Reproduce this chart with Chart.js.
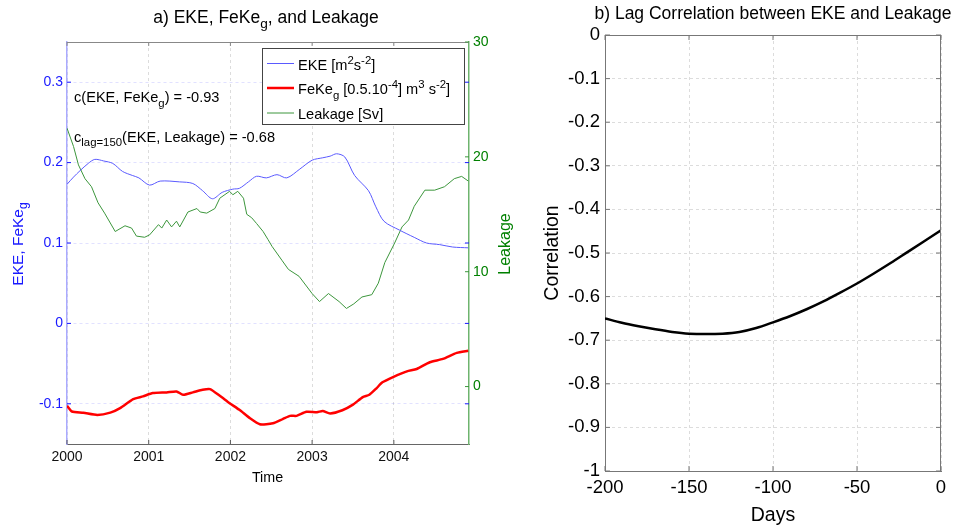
<!DOCTYPE html>
<html>
<head>
<meta charset="utf-8">
<script src="https://cdn.jsdelivr.net/npm/chart.js@4.4.0/dist/chart.umd.min.js"></script>
<style>
    body { margin: 0; background: #fff; }
    #lienzo { position: relative; width: 953px; height: 529px; }
    #lienzo canvas { position: absolute; left: 0; top: 0; }
</style>
</head>
<body>
<div id="lienzo">
    <canvas id="graficoA" width="953" height="529"></canvas>
    <canvas id="graficoB" width="953" height="529"></canvas>
</div>
<script>
// Datos panel a) (tiempo en años decimales)
const anosEKE = [2000.00, 2000.08, 2000.16, 2000.26, 2000.34, 2000.45, 2000.56, 2000.68, 2000.80, 2000.88, 2001.01, 2001.14, 2001.38, 2001.54, 2001.66, 2001.78, 2001.90, 2002.03, 2002.11, 2002.22, 2002.32, 2002.44, 2002.57, 2002.69, 2002.85, 2003.00, 2003.13, 2003.22, 2003.30, 2003.40, 2003.52, 2003.69, 2003.78, 2003.88, 2004.07, 2004.25, 2004.40, 2004.56, 2004.72, 2004.91];
const valoresEKE = [0.173, 0.182, 0.190, 0.199, 0.204, 0.202, 0.199, 0.189, 0.184, 0.181, 0.172, 0.177, 0.176, 0.174, 0.165, 0.155, 0.163, 0.167, 0.168, 0.176, 0.183, 0.181, 0.185, 0.181, 0.192, 0.203, 0.206, 0.208, 0.211, 0.207, 0.184, 0.165, 0.145, 0.127, 0.116, 0.107, 0.100, 0.098, 0.095, 0.094];

const anosFeKe = [2000.00, 2000.06, 2000.20, 2000.37, 2000.53, 2000.65, 2000.81, 2000.93, 2001.05, 2001.22, 2001.34, 2001.42, 2001.54, 2001.66, 2001.75, 2001.87, 2001.99, 2002.11, 2002.24, 2002.36, 2002.52, 2002.64, 2002.73, 2002.81, 2002.93, 2003.06, 2003.13, 2003.22, 2003.37, 2003.50, 2003.62, 2003.70, 2003.79, 2003.86, 2003.99, 2004.16, 2004.28, 2004.44, 2004.60, 2004.77, 2004.91];
const valoresFeKe = [-0.1025, -0.1096, -0.111, -0.1138, -0.111, -0.1054, -0.0942, -0.0908, -0.0867, -0.0858, -0.0846, -0.0888, -0.0858, -0.0825, -0.0817, -0.090, -0.0992, -0.1075, -0.118, -0.1254, -0.1242, -0.119, -0.115, -0.115, -0.110, -0.1104, -0.109, -0.112, -0.108, -0.101, -0.0917, -0.0888, -0.0804, -0.0733, -0.0667, -0.0596, -0.0567, -0.0483, -0.0442, -0.0367, -0.034];

const anosLeakage = [2000.00, 2000.08, 2000.14, 2000.22, 2000.30, 2000.38, 2000.46, 2000.59, 2000.71, 2000.79, 2000.85, 2000.95, 2001.01, 2001.12, 2001.16, 2001.22, 2001.28, 2001.34, 2001.38, 2001.48, 2001.59, 2001.63, 2001.71, 2001.81, 2001.87, 2001.99, 2002.03, 2002.09, 2002.16, 2002.20, 2002.26, 2002.32, 2002.40, 2002.46, 2002.51, 2002.63, 2002.71, 2002.84, 2003.00, 2003.09, 2003.20, 2003.33, 2003.42, 2003.51, 2003.61, 2003.73, 2003.81, 2003.89, 2004.01, 2004.10, 2004.18, 2004.25, 2004.38, 2004.50, 2004.62, 2004.74, 2004.83, 2004.91];
const valoresLeakage = [22.5, 20.9, 19.3, 18.1, 17.4, 16.0, 15.1, 13.5, 14.0, 13.8, 13.1, 13.0, 13.2, 14.1, 13.8, 14.5, 13.9, 14.4, 13.9, 15.2, 15.5, 15.2, 15.1, 15.5, 16.4, 17.0, 16.7, 17.0, 16.4, 15.0, 14.7, 14.2, 13.5, 12.8, 12.2, 11.0, 10.2, 9.6, 8.1, 7.4, 8.1, 7.4, 6.8, 7.2, 7.8, 8.0, 9.0, 10.8, 12.5, 13.9, 14.5, 15.7, 17.1, 17.1, 17.4, 18.1, 18.3, 17.9];

// Datos panel b)
const diasLag = [-200, -190, -180, -170, -160, -150, -140, -130, -120, -110, -100, -90, -80, -70, -60, -50, -40, -30, -20, -10, 0];
const correlacionLag = [-0.650, -0.660, -0.668, -0.675, -0.681, -0.685, -0.686, -0.685, -0.681, -0.672, -0.659, -0.645, -0.629, -0.611, -0.591, -0.570, -0.547, -0.523, -0.498, -0.473, -0.448];

// Ticks
const ticksTiempo = [2000, 2001, 2002, 2003, 2004];
const ticksEKE = [-0.1, 0, 0.1, 0.2, 0.3];
const ticksLeakage = [0, 10, 20, 30];
const ticksDias = [-200, -150, -100, -50, 0];
const ticksCorrelacion = [0, -0.1, -0.2, -0.3, -0.4, -0.5, -0.6, -0.7, -0.8, -0.9, -1];

const FUENTE = "'Liberation Sans', Arial, sans-serif";
const AZUL = 'rgb(25,25,255)';
const VERDE = 'rgb(0,128,0)';

const puntos = (xs, ys) => xs.map((x, i) => ({ x: x, y: ys[i] }));
const fijarTicks = lista => (escala => { escala.ticks = lista.map(v => ({ value: v })); });

// Texto con subindices / superindices
function textoRico(ctx, partes, x, y, size, color, align) {
    const tam = m => (m ? size * 0.78 : size);
    let ancho = 0;
    partes.forEach(([t, m]) => {
        ctx.font = tam(m) + 'px ' + FUENTE;
        ancho += ctx.measureText(t).width;
    });
    let cx = align === 'center' ? x - ancho / 2 : x;
    ctx.fillStyle = color;
    ctx.textAlign = 'left';
    ctx.textBaseline = 'alphabetic';
    partes.forEach(([t, m]) => {
        ctx.font = tam(m) + 'px ' + FUENTE;
        const dy = m === 'sub' ? size * 0.32 : (m === 'sup' ? -size * 0.42 : 0);
        ctx.fillText(t, cx, y + dy);
        cx += ctx.measureText(t).width;
    });
}

function textoVertical(ctx, partes, x, y, size, color) {
    ctx.save();
    ctx.translate(x, y);
    ctx.rotate(-Math.PI / 2);
    textoRico(ctx, partes, 0, 0, size, color, 'center');
    ctx.restore();
}

function linea(ctx, x1, y1, x2, y2, color, ancho) {
    ctx.save();
    ctx.strokeStyle = color;
    ctx.lineWidth = ancho;
    ctx.beginPath();
    ctx.moveTo(x1, y1);
    ctx.lineTo(x2, y2);
    ctx.stroke();
    ctx.restore();
}

const extrasA = {
    id: 'extrasA',
    afterDraw(chart) {
        const ctx = chart.ctx;
        const a = chart.chartArea;
        const sx = chart.scales.x, sy = chart.scales.yEKE, sl = chart.scales.yLeak;

        // borde superior y ticks hacia dentro
        linea(ctx, a.left, a.top + 0.5, a.right, a.top + 0.5, '#888', 1);
        ticksTiempo.forEach(v => {
            const px = sx.getPixelForValue(v);
            linea(ctx, px, a.bottom, px, a.bottom - 4, '#555', 1);
            linea(ctx, px, a.top, px, a.top + 4, '#888', 1);
        });
        ticksEKE.forEach(v => {
            const py = sy.getPixelForValue(v);
            linea(ctx, a.left, py, a.left + 4, py, AZUL, 1);
            linea(ctx, a.right, py, a.right - 4, py, AZUL, 1);
        });
        ticksLeakage.forEach(v => {
            const py = sl.getPixelForValue(v);
            linea(ctx, a.right, py, a.right - 4, py, 'rgb(60,150,60)', 1);
        });

        // Anotaciones
        textoRico(ctx, [['c(EKE, FeKe', ''], ['g', 'sub'], [') = -0.93', '']], 74, 102, 14.6, '#000', 'left');
        textoRico(ctx, [['c', ''], ['lag=150', 'sub'], ['(EKE, Leakage) = -0.68', '']], 74, 141.7, 14.6, '#000', 'left');

        // Leyenda
        ctx.save();
        ctx.fillStyle = '#fff';
        ctx.fillRect(262, 48, 202, 76);
        ctx.strokeStyle = '#444';
        ctx.lineWidth = 1;
        ctx.strokeRect(262.5, 48.5, 202, 76);
        ctx.restore();
        linea(ctx, 267, 63.5, 294, 63.5, 'rgb(90,90,255)', 1);
        linea(ctx, 267, 88, 294, 88, 'rgb(255,0,0)', 2.5);
        linea(ctx, 267, 113, 294, 113, 'rgb(60,150,60)', 1);
        textoRico(ctx, [['EKE [m', ''], ['2', 'sup'], ['s', ''], ['-2', 'sup'], [']', '']], 298, 70, 14.6, '#000', 'left');
        textoRico(ctx, [['FeKe', ''], ['g', 'sub'], [' [0.5.10', ''], ['-4', 'sup'], ['] m', ''], ['3', 'sup'], [' s', ''], ['-2', 'sup'], [']', '']], 298, 94.3, 14.6, '#000', 'left');
        textoRico(ctx, [['Leakage [Sv]', '']], 298, 119, 14.6, '#000', 'left');

        // Titulos
        textoRico(ctx, [['a) EKE, FeKe', ''], ['g', 'sub'], [', and Leakage', '']], 266, 22.7, 17.5, '#000', 'center');
        textoRico(ctx, [['Time', '']], 267.5, 482.3, 14.3, '#000', 'center');
        textoVertical(ctx, [['EKE, FeKe', ''], ['g', 'sub']], 22.5, 244, 15.5, AZUL);
        textoVertical(ctx, [['Leakage', '']], 509.5, 244, 16, VERDE);
    }
};

const extrasB = {
    id: 'extrasB',
    afterDraw(chart) {
        const ctx = chart.ctx;
        const a = chart.chartArea;
        const sx = chart.scales.x, sy = chart.scales.y;
        linea(ctx, a.left, a.top + 0.5, a.right, a.top + 0.5, '#777', 1);
        linea(ctx, a.right - 0.5, a.top, a.right - 0.5, a.bottom, '#777', 1);
        ticksDias.forEach(v => {
            const px = sx.getPixelForValue(v);
            linea(ctx, px, a.bottom, px, a.bottom - 5, '#777', 1);
            linea(ctx, px, a.top, px, a.top + 5, '#777', 1);
        });
        ticksCorrelacion.forEach(v => {
            const py = sy.getPixelForValue(v);
            linea(ctx, a.left, py, a.left + 5, py, '#777', 1);
            linea(ctx, a.right, py, a.right - 5, py, '#777', 1);
        });
        textoRico(ctx, [['b) Lag Correlation between EKE and Leakage', '']], 773, 19.3, 17.5, '#000', 'center');
        textoRico(ctx, [['Days', '']], 773, 520.7, 19.5, '#000', 'center');
        textoVertical(ctx, [['Correlation', '']], 558, 253, 19.5, '#000');
    }
};

// Panel a)
new Chart(document.getElementById('graficoA'), {
    type: 'line',
    data: {
        datasets: [
            {
                label: 'EKE',
                data: puntos(anosEKE, valoresEKE),
                yAxisID: 'yEKE',
                borderColor: 'rgb(90,90,255)',
                borderWidth: 1,
                pointRadius: 0,
                tension: 0.3
            },
            {
                label: 'FeKe',
                data: puntos(anosFeKe, valoresFeKe),
                yAxisID: 'yEKE',
                borderColor: 'rgb(255,0,0)',
                borderWidth: 2.5,
                pointRadius: 0,
                tension: 0.2
            },
            {
                label: 'Leakage',
                data: puntos(anosLeakage, valoresLeakage),
                yAxisID: 'yLeak',
                borderColor: 'rgb(60,150,60)',
                borderWidth: 1,
                pointRadius: 0,
                tension: 0
            }
        ]
    },
    options: {
        responsive: false,
        animation: false,
        layout: { padding: { top: 42, left: 0, right: 0, bottom: 0 } },
        plugins: { legend: { display: false }, tooltip: { enabled: false } },
        scales: {
            x: {
                type: 'linear',
                min: 2000,
                max: 2004.92,
                afterFit: s => { s.height = 85; },
                afterBuildTicks: fijarTicks(ticksTiempo),
                ticks: { color: '#111', font: { family: FUENTE, size: 14 }, padding: 5, callback: v => String(v) },
                grid: { color: '#dcdcdc', drawTicks: false },
                border: { color: '#666', width: 1, dash: [3, 3] }
            },
            yEKE: {
                position: 'left',
                min: -0.15,
                max: 0.35,
                afterFit: s => { s.width = 67; },
                afterBuildTicks: fijarTicks(ticksEKE),
                ticks: { color: AZUL, font: { family: FUENTE, size: 14 }, padding: 4, callback: v => String(v) },
                grid: { color: 'rgba(120,120,255,0.22)', drawTicks: false },
                border: { color: 'rgb(170,170,255)', width: 1.5, dash: [3, 3] }
            },
            yLeak: {
                position: 'right',
                min: -5,
                max: 30,
                afterFit: s => { s.width = 953 - 469; },
                afterBuildTicks: fijarTicks(ticksLeakage),
                ticks: { color: VERDE, font: { family: FUENTE, size: 14 }, padding: 4, callback: v => String(v) },
                grid: { drawOnChartArea: false, drawTicks: false },
                border: { color: 'rgb(110,180,110)', width: 1.5 }
            }
        }
    },
    plugins: [extrasA]
});

// Panel b)
new Chart(document.getElementById('graficoB'), {
    type: 'line',
    data: {
        datasets: [{
            label: 'Correlation',
            data: puntos(diasLag, correlacionLag),
            borderColor: '#000',
            borderWidth: 2.5,
            pointRadius: 0,
            cubicInterpolationMode: 'monotone'
        }]
    },
    options: {
        responsive: false,
        animation: false,
        layout: { padding: { top: 35, left: 0, right: 12, bottom: 0 } },
        plugins: { legend: { display: false }, tooltip: { enabled: false } },
        scales: {
            x: {
                type: 'linear',
                min: -200,
                max: 0,
                afterFit: s => { s.height = 58; },
                afterBuildTicks: fijarTicks(ticksDias),
                ticks: { color: '#000', font: { family: FUENTE, size: 18.5 }, padding: 6, callback: v => String(v) },
                grid: { color: '#dcdcdc', drawTicks: false },
                border: { color: '#777', width: 1, dash: [3, 3] }
            },
            y: {
                min: -1,
                max: 0,
                afterFit: s => { s.width = 605; },
                afterBuildTicks: fijarTicks(ticksCorrelacion),
                ticks: { color: '#000', font: { family: FUENTE, size: 18.5 }, padding: 5, callback: v => String(v) },
                grid: { color: '#dcdcdc', drawTicks: false },
                border: { color: '#777', width: 1, dash: [3, 3] }
            }
        }
    },
    plugins: [extrasB]
});
</script>
</body>
</html>
